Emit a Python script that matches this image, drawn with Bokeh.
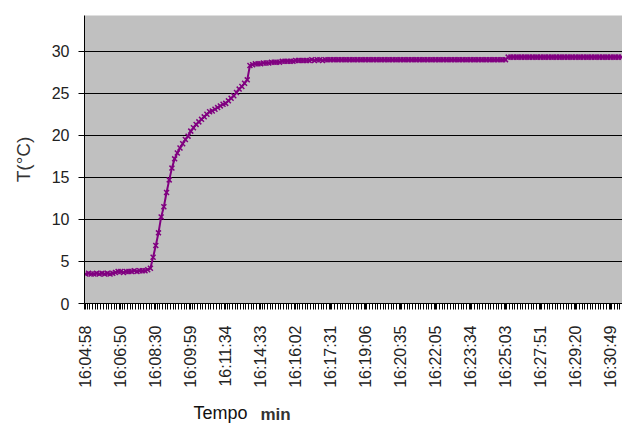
import math
from bokeh.plotting import figure
from bokeh.models import FixedTicker, Title, ColumnDataSource
from bokeh.embed import file_html
from bokeh.resources import INLINE

# Time labels shown on the category axis (one every 13 samples)
time_labels = ["16:04:58", "16:06:50", "16:08:30", "16:09:59", "16:11:34",
               "16:14:33", "16:16:02", "16:17:31", "16:19:06", "16:20:35",
               "16:22:05", "16:23:34", "16:25:03", "16:27:51", "16:29:20",
               "16:30:49"]
label_step = 13

# Temperature readings (°C), one per sample
temperature = [
    3.5, 3.6, 3.5, 3.5, 3.6, 3.5, 3.6, 3.5, 3.6, 3.5,
    3.6, 3.7, 3.8, 3.8, 3.7, 3.8, 3.8, 3.8, 3.9, 3.8,
    3.9, 3.9, 3.9, 4.0, 4.2, 5.5, 6.9, 8.4, 10.3, 11.5,
    13.2, 14.7, 16.1, 17.2, 17.9, 18.5, 19.0, 19.5, 19.9, 20.5,
    20.9, 21.3, 21.6, 21.9, 22.2, 22.5, 22.8, 22.9, 23.1, 23.3,
    23.5, 23.7, 23.8, 24.1, 24.4, 24.7, 25.1, 25.5, 25.8, 26.2,
    26.6, 28.3, 28.4, 28.5, 28.5, 28.5, 28.6, 28.6, 28.6, 28.7,
    28.7, 28.7, 28.7, 28.8, 28.8, 28.8, 28.8, 28.8, 28.9, 28.9,
    28.9, 28.9, 28.9, 28.9, 29.0, 28.9, 29.0, 29.0, 28.9, 29.0,
    29.0, 29.0, 29.0, 29.0, 29.0, 29.0, 29.0, 29.0, 29.0, 29.0,
    29.0, 29.0, 29.0, 29.0, 29.0, 29.0, 29.0, 29.0, 29.0, 29.0,
    29.0, 29.0, 29.0, 29.0, 29.0, 29.0, 29.0, 29.0, 29.0, 29.0,
    29.0, 29.0, 29.0, 29.0, 29.0, 29.0, 29.0, 29.0, 29.0, 29.0,
    29.0, 29.0, 29.0, 29.0, 29.0, 29.0, 29.0, 29.0, 29.0, 29.0,
    29.0, 29.0, 29.0, 29.0, 29.0, 29.0, 29.0, 29.0, 29.0, 29.0,
    29.0, 29.0, 29.0, 29.0, 29.0, 29.0, 29.0, 29.3, 29.3, 29.3,
    29.3, 29.3, 29.3, 29.3, 29.3, 29.3, 29.3, 29.3, 29.3, 29.3,
    29.3, 29.3, 29.3, 29.3, 29.3, 29.3, 29.3, 29.3, 29.3, 29.3,
    29.3, 29.3, 29.3, 29.3, 29.3, 29.3, 29.3, 29.3, 29.3, 29.3,
    29.3, 29.3, 29.3, 29.3, 29.3, 29.3, 29.3, 29.3, 29.3, 29.3,
]
y_ticks = [0, 5, 10, 15, 20, 25, 30]

n = len(temperature)
sample = list(range(n))
src = ColumnDataSource(dict(x=sample, t=temperature))

FONT = "Liberation Sans"

p = figure(width=622, height=423, x_range=(-0.5, n - 0.5), y_range=(0, 34.25),
           output_backend="svg", toolbar_location=None,
           min_border_left=84, min_border_right=0, min_border_top=15,
           min_border_bottom=120)
p.background_fill_color = "#c0c0c0"
p.border_fill_color = "white"
p.outline_line_color = None

p.xgrid.visible = False
p.ygrid.ticker = FixedTicker(ticks=y_ticks)
p.ygrid.grid_line_color = "black"
p.ygrid.grid_line_width = 1

major = [i * label_step for i in range(len(time_labels))]
p.xaxis.ticker = FixedTicker(ticks=major,
                             minor_ticks=[i - 0.5 for i in range(n + 1)])
p.xaxis.major_label_overrides = {m: lab for m, lab in zip(major, time_labels)}
p.xaxis.major_label_orientation = math.pi / 2
p.xaxis.major_tick_out = 6
p.xaxis.major_tick_in = 0
p.xaxis.minor_tick_out = 6
p.xaxis.minor_tick_in = 0
p.xaxis.major_label_standoff = 16

p.yaxis.ticker = FixedTicker(ticks=y_ticks)
p.yaxis.major_tick_out = 6
p.yaxis.major_tick_in = 0
p.yaxis.major_label_standoff = 9
p.yaxis.axis_label = "T(°C)"
p.yaxis.axis_label_text_font_style = "normal"
p.yaxis.axis_label_text_font_size = "19px"
p.yaxis.axis_label_text_font = FONT
p.yaxis.axis_label_text_color = "#333333"
p.yaxis.axis_label_standoff = 15

for ax in (p.xaxis, p.yaxis):
    ax.axis_line_color = "black"
    ax.major_tick_line_color = "black"
    ax.minor_tick_line_color = "black"
    ax.major_label_text_font = FONT
    ax.major_label_text_font_size = "16px"
    ax.major_label_text_color = "#222222"

p.line("x", "t", source=src, line_color="#800080", line_width=2)
p.scatter("x", "t", source=src, marker="x", size=7, line_color="#800080",
          line_width=1.5)

p.add_layout(Title(text="Tempo", align="left", offset=109, standoff=-64,
                   vertical_align="bottom", text_font=FONT,
                   text_font_size="18px", text_font_style="normal",
                   text_color="#111111"), "below")
p.add_layout(Title(text="min", align="left", offset=176, standoff=-66,
                   vertical_align="bottom", text_font=FONT,
                   text_font_size="17px", text_font_style="bold",
                   text_color="#333333"), "below")

open("out.html", "w").write(file_html(p, INLINE))
